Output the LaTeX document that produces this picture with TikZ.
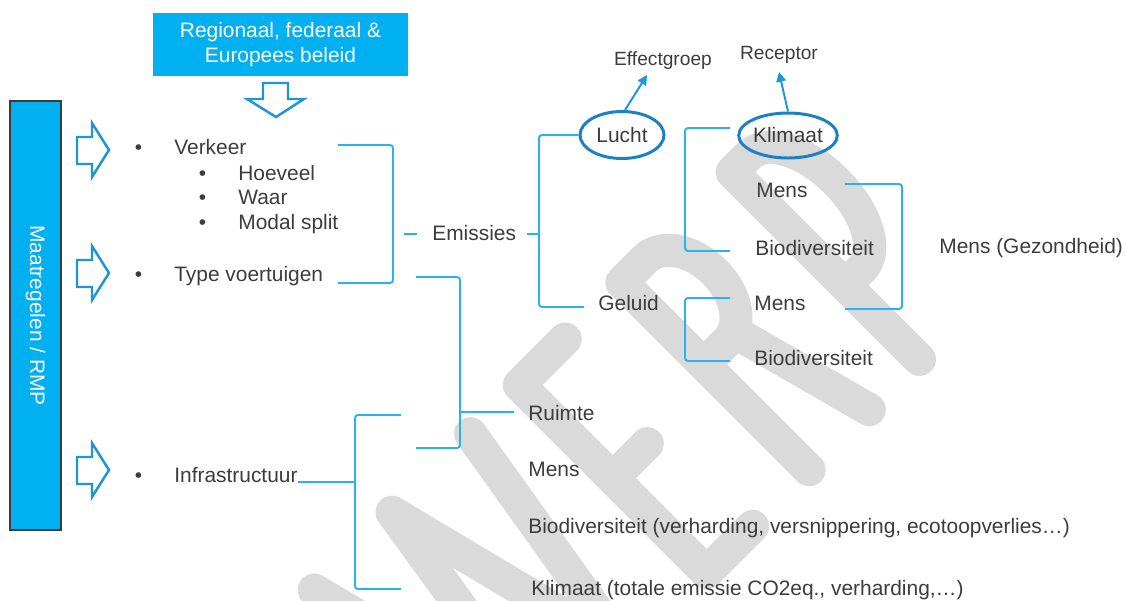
\documentclass[tikz,border=0pt]{standalone}
\usepackage{fontspec}
\setmainfont{Liberation Sans}
\usetikzlibrary{arrows.meta,shapes.geometric,positioning}
\definecolor{boxblue}{RGB}{0,176,240}
\definecolor{lineblue}{RGB}{41,178,240}
\definecolor{arrowblue}{RGB}{28,150,212}
\definecolor{ovalblue}{RGB}{30,128,196}
\definecolor{txtgray}{RGB}{60,60,60}
\definecolor{barrim}{RGB}{60,60,60}
\definecolor{wmgray}{RGB}{218,218,218}
\tikzset{
    lbl/.style={
        text=txtgray,
        font=\fontsize{11.9}{14}\selectfont,
        inner sep=0pt,
        anchor=base west
    },
    smalllbl/.style={
        lbl,
        font=\fontsize{10.9}{13}\selectfont,
        anchor=base
    },
    % blauwe haken
    bracket/.style={
        draw=lineblue,
        line width=1.1pt,
        rounded corners=0.06cm
    },
    oval/.style={
        ellipse,
        draw=ovalblue,
        line width=1.7pt,
        inner sep=0pt,
        text=txtgray,
        font=\fontsize{11.9}{14}\selectfont
    },
    hollowarrow/.style={
        draw=arrowblue,
        line width=1.4pt,
        fill=white,
        line join=miter
    },
    pointer/.style={
        draw=arrowblue,
        line width=1.1pt,
        -{Triangle[length=5.5pt, width=5.5pt]}
    },
    watermark/.style={
        draw=wmgray,
        line width=0.66cm,
        line cap=round,
        line join=round
    }
}

\begin{document}
\begin{tikzpicture}[x=0.02cm, y=0.02cm]
\useasboundingbox (0,0) rectangle (1125,-600);

% watermerk ONTWERP (alleen WERP zichtbaar)
\begin{scope}[shift={(651.5,-651.5)}, rotate=45]
  \draw[watermark] (-195,282) -- (-127,17) -- (-85,282) -- (-18,17) -- (26,282);
  \draw[watermark] (160,282) -- (95,282) -- (95,17) -- (160,17)
                   (95,150) -- (144,150);
  \draw[watermark] (240,17) -- (240,282) -- (273,282)
                   arc[start angle=90, end angle=-90, x radius=40, y radius=58] -- (240,166)
                   (285,166) -- (325,17);
  \draw[watermark] (396,17) -- (396,282) -- (420,282)
                   arc[start angle=90, end angle=-90, x radius=43, y radius=80] -- (396,122);
\end{scope}

% beleid bovenaan
\node[fill=boxblue, text=white, align=center, inner sep=0pt,
      minimum width=5.1cm, minimum height=1.26cm,
      font=\fontsize{11.9}{14.3}\selectfont] (beleid) at (280.5,-44.5)
      {Regionaal, federaal \&\\Europees beleid};
\draw[hollowarrow] (263,-83) -- (288,-83) -- (288,-99) -- (304,-99)
      -- (276,-117) -- (247,-99) -- (263,-99) -- cycle;

% balk links
\node[rotate=-90, fill=boxblue, draw=barrim, line width=1.6pt, text=white,
      inner sep=0pt, minimum width=8.58cm, minimum height=1.02cm,
      font=\fontsize{11.9}{14}\selectfont] (rmp) at (35.5,-315.5) {Maatregelen / RMP};
\foreach \cy in {150,273,470}
  \draw[hollowarrow] (77,-\cy+13) -- (92,-\cy+13) -- (92,-\cy+27) -- (109,-\cy)
      -- (92,-\cy-27) -- (92,-\cy-14) -- (77,-\cy-14) -- cycle;

% maatregelen
\node[lbl] (bul1) at (134.5,-154) {\textbullet};
\node[lbl] (verkeer) at (174,-154) {Verkeer};
\node[lbl] (bul2) at (198.5,-180) {\textbullet};
\node[lbl] (hoeveel) at (238,-180) {Hoeveel};
\node[lbl] (bul3) at (198.5,-204) {\textbullet};
\node[lbl] (waar) at (238,-204) {Waar};
\node[lbl] (bul4) at (198.5,-229) {\textbullet};
\node[lbl] (modal) at (238,-229) {Modal split};
\node[lbl] (bul5) at (134.5,-281) {\textbullet};
\node[lbl] (type) at (174,-281) {Type voertuigen};
\node[lbl] (bul6) at (134.5,-482) {\textbullet};
\node[lbl] (infra) at (174,-482) {Infrastructuur};

% effecten
\node[lbl] (emis) at (432,-240) {Emissies};
\node[oval, minimum width=1.68cm, minimum height=0.94cm] (lucht) at (622,-135) {Lucht};
\node[lbl] (geluid) at (598,-310) {Geluid};
\node[smalllbl] (effect) at (663,-65) {Effectgroep};
\node[oval, minimum width=1.86cm, minimum height=0.9cm] (klimaat) at (788,-135.5) {Klimaat};
\node[smalllbl] (receptor) at (779,-59) {Receptor};
\node[lbl] (mens1) at (756,-197) {Mens};
\node[lbl] (bio1) at (755,-255) {Biodiversiteit};
\node[lbl] (gezond) at (939,-253) {Mens (Gezondheid)};
\node[lbl] (mens2) at (754,-310) {Mens};
\node[lbl] (bio2) at (754,-365) {Biodiversiteit};
\node[lbl] (ruimte) at (528,-420) {Ruimte};
\node[lbl] (mens3) at (528,-476) {Mens};
\node[lbl] (bio3) at (528,-533) {Biodiversiteit (verharding, versnippering, ecotoopverlies…)};
\node[lbl] (klim2) at (531,-595) {Klimaat (totale emissie CO2eq., verharding,…)};

% pijltjes naar de labels
\coordinate (efftip) at (647,-75);
\coordinate (rectip) at (779,-72);
\draw[pointer] ([xshift=0.06cm]lucht.north) -- (efftip);
\draw[pointer] (klimaat.north) -- (rectip);

% haken
\draw[bracket] (338,-145) -| (393,-283) -- (338,-283);
\draw[bracket] (404,-234) -- (417,-234);
\draw[bracket] (527,-234) -- (539,-234);
\draw[bracket] (lucht.west) -| (539,-307) -- (584,-307);
\draw[bracket] (730,-128) -| (685,-251) -- (730,-251);
\draw[bracket] (845,-184) -| (902,-309) -- (845,-309);
\draw[bracket] (730,-298) -| (685,-361) -- (730,-361);
\draw[bracket] (416,-277) -| (460,-448) -- (416,-448);
\draw[bracket] (460,-412) -- (514,-412);
\draw[bracket] (infra.base east) -- (355,-482);
\draw[bracket] (401,-415) -| (355,-589) -- (401,-589);

\end{tikzpicture}
\end{document}
